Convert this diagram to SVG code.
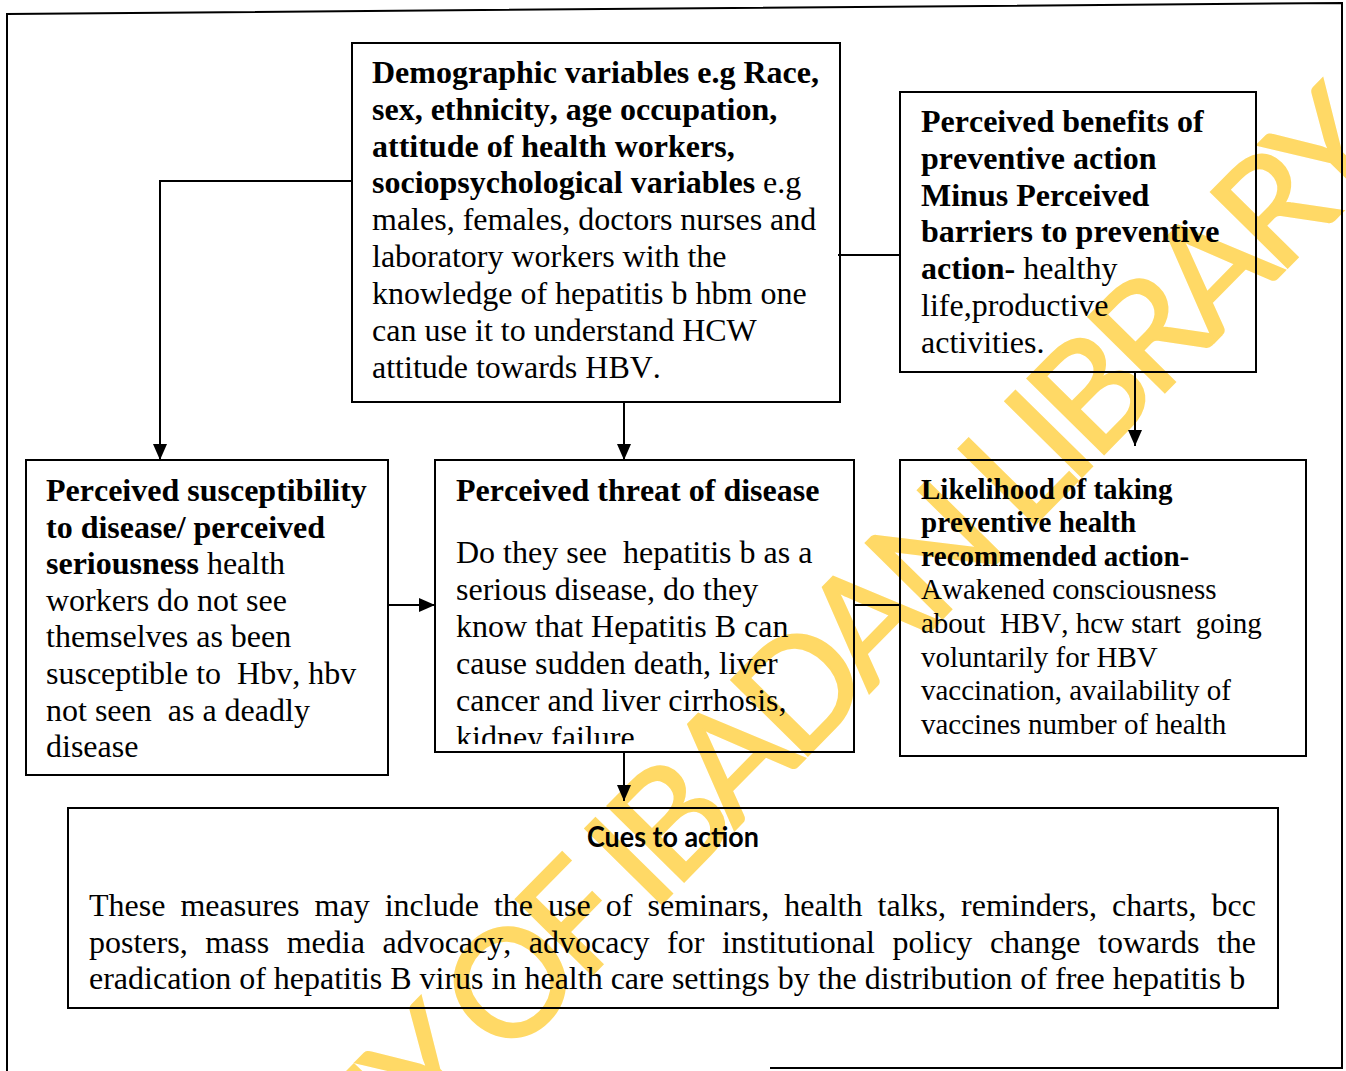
<svg xmlns="http://www.w3.org/2000/svg" width="1346" height="1071" viewBox="0 0 1346 1071">
  <defs>
    <style>
      .box{fill:none;stroke:#000;stroke-width:2}
      .frame{fill:none;stroke:#000;stroke-width:2}
      .conn{fill:none;stroke:#000;stroke-width:2}
      .t{font-family:"Liberation Serif","Times New Roman",serif;font-size:32px;fill:#000;font-kerning:none}
      .s{font-size:29px}
      .b{font-weight:bold}
      .pre{white-space:pre}
      .wm{font-family:Lato,"Liberation Sans",sans-serif;font-size:150px;fill:#FFD966;stroke:#FFD966;stroke-width:2}
      .cue{font-family:Lato,"Liberation Sans",sans-serif;font-weight:bold;font-size:28px;fill:#000}
    </style>
    <marker id="arr" markerUnits="userSpaceOnUse" markerWidth="16" markerHeight="14" refX="16" refY="7" orient="auto">
      <path d="M0,0 L16,7 L0,14 z" fill="#000"/>
    </marker>
    <clipPath id="clipThreat">
      <rect x="436" y="461" width="417" height="283"/>
    </clipPath>
  </defs>

  <rect x="0" y="0" width="1346" height="1071" fill="#fff"/>

  <!-- watermark -->
  <g id="watermark">
    <text class="wm" transform="translate(432,1138) rotate(-45.5)" x="0" y="0" textLength="1380" lengthAdjust="spacing">Y OF IBADAN LIBRARY</text>
    <text class="wm" transform="translate(432,1138) rotate(-45.5)" x="0" y="0" text-anchor="end">UNIVERSIT</text>
  </g>

  <!-- outer frame -->
  <g id="frame">
    <path class="frame" d="M7,1071 L7,14 L1342,3 L1342,1068 L770,1068"/>
  </g>

  <!-- connectors -->
  <g id="connectors">
    <path class="conn" d="M352,181 L160,181 L160,460" marker-end="url(#arr)"/>
    <path class="conn" d="M624,402 L624,460" marker-end="url(#arr)"/>
    <path class="conn" d="M838,255 L900,255"/>
    <path class="conn" d="M1135,372 L1135,446" marker-end="url(#arr)"/>
    <path class="conn" d="M388,605 L435,605" marker-end="url(#arr)"/>
    <path class="conn" d="M854,605 L900,605"/>
    <path class="conn" d="M624,752 L624,801" marker-end="url(#arr)"/>
  </g>

  <!-- Demographic -->
  <g id="demographic">
    <rect class="box" x="352" y="43" width="488" height="359"/>
    <text class="t b" x="372" y="83">Demographic variables e.g Race,</text>
    <text class="t b" x="372" y="120">sex, ethnicity, age occupation,</text>
    <text class="t b" x="372" y="157">attitude of health workers,</text>
    <text class="t" x="372" y="193"><tspan class="b">sociopsychological variables</tspan> e.g</text>
    <text class="t" x="372" y="230">males, females, doctors nurses and</text>
    <text class="t" x="372" y="267">laboratory workers with the</text>
    <text class="t" x="372" y="304">knowledge of hepatitis b hbm one</text>
    <text class="t" x="372" y="341">can use it to understand HCW</text>
    <text class="t" x="372" y="378">attitude towards HBV.</text>
  </g>

  <!-- Benefits -->
  <g id="benefits">
    <rect class="box" x="900" y="92" width="356" height="280"/>
    <text class="t b" x="921" y="132">Perceived benefits of</text>
    <text class="t b" x="921" y="169">preventive action</text>
    <text class="t b" x="921" y="206">Minus Perceived</text>
    <text class="t b" x="921" y="242">barriers to preventive</text>
    <text class="t" x="921" y="279"><tspan class="b">action-</tspan> healthy</text>
    <text class="t" x="921" y="316">life,productive</text>
    <text class="t" x="921" y="353">activities.</text>
  </g>

  <!-- Susceptibility -->
  <g id="susceptibility">
    <rect class="box" x="26" y="460" width="362" height="315"/>
    <text class="t b" x="46" y="501">Perceived susceptibility</text>
    <text class="t b" x="46" y="538">to disease/ perceived</text>
    <text class="t" x="46" y="574"><tspan class="b">seriousness</tspan> health</text>
    <text class="t" x="46" y="611">workers do not see</text>
    <text class="t" x="46" y="647">themselves as been</text>
    <text class="t pre" x="46" y="684">susceptible to  Hbv, hbv</text>
    <text class="t pre" x="46" y="721">not seen  as a deadly</text>
    <text class="t" x="46" y="757">disease</text>
  </g>

  <!-- Threat -->
  <g id="threat">
    <rect class="box" x="435" y="460" width="419" height="292"/>
    <text class="t b" x="456" y="501">Perceived threat of disease</text>
    <g clip-path="url(#clipThreat)">
      <text class="t pre" x="456" y="563">Do they see  hepatitis b as a</text>
      <text class="t" x="456" y="600">serious disease, do they</text>
      <text class="t" x="456" y="637">know that Hepatitis B can</text>
      <text class="t" x="456" y="674">cause sudden death, liver</text>
      <text class="t" x="456" y="711">cancer and liver cirrhosis,</text>
      <text class="t" x="456" y="748">kidney failure.</text>
    </g>
  </g>

  <!-- Likelihood -->
  <g id="likelihood">
    <rect class="box" x="900" y="460" width="406" height="296"/>
    <text class="t s b" x="921" y="499">Likelihood of taking</text>
    <text class="t s b" x="921" y="532">preventive health</text>
    <text class="t s b" x="921" y="566">recommended action-</text>
    <text class="t s" x="921" y="599">Awakened consciousness</text>
    <text class="t s pre" x="921" y="633">about  HBV, hcw start  going</text>
    <text class="t s" x="921" y="667">voluntarily for HBV</text>
    <text class="t s" x="921" y="700">vaccination, availability of</text>
    <text class="t s" x="921" y="734">vaccines number of health</text>
  </g>

  <!-- Cues -->
  <g id="cues">
    <rect class="box" x="68" y="808" width="1210" height="200"/>
    <text class="cue" x="587" y="847" textLength="172" lengthAdjust="spacingAndGlyphs">Cues to action</text>
    <text class="t" x="89" y="916" word-spacing="7.05">These measures may include the use of seminars, health talks, reminders, charts, bcc</text>
    <text class="t" x="89" y="953" word-spacing="9.53">posters, mass media advocacy, advocacy for institutional policy change towards the</text>
    <text class="t" x="89" y="989">eradication of hepatitis B virus in health care settings by the distribution of free hepatitis b</text>
  </g>
</svg>
